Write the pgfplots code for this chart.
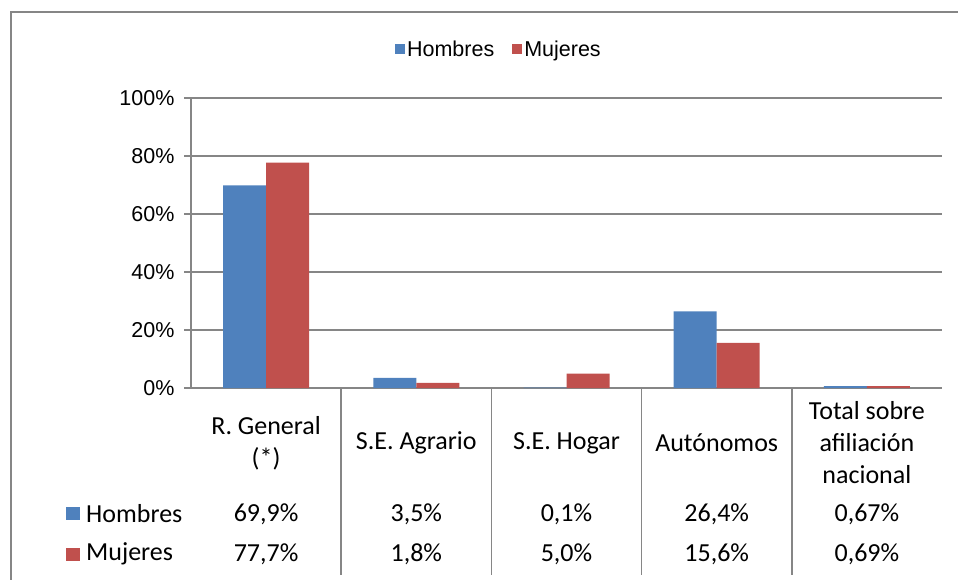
\documentclass[border=0pt]{standalone}
\usepackage{fontspec}
\setmainfont{Liberation Sans}
\newfontfamily\calibri{Carlito}
\usepackage{pgfplots}
\pgfplotsset{compat=1.18}
\definecolor{hblue}{HTML}{4F81BD}
\definecolor{mred}{HTML}{C0504D}
\definecolor{gridgray}{HTML}{868686}
\newcommand{\tbl}{\calibri\fontsize{26}{32}\selectfont}
\newcommand{\hel}{\fontsize{21.5}{25}\selectfont}
\begin{document}
\begin{tikzpicture}
\useasboundingbox (0pt,0pt) rectangle (958pt,-580pt);
\draw[gridgray, line width=1.5pt] (11pt,-590pt) -- (11pt,-12pt) -- (970pt,-12pt);
\begin{axis}[
  at={(191pt,-388pt)}, anchor=south west,
  scale only axis, width=751pt, height=290pt,
  xmin=-0.5, xmax=4.5, ymin=0, ymax=100,
  ybar=0pt, bar width=43pt,
  clip=false,
  axis y line*=left, axis x line*=bottom,
  axis line style={gridgray, line width=1.5pt},
  ymajorgrids, grid style={gridgray, line width=1.5pt},
  ytick={0,20,40,60,80,100},
  yticklabels={0\%,20\%,40\%,60\%,80\%,100\%},
  ytick align=outside, major tick length=7pt,
  ytick style={gridgray, line width=1.5pt},
  xtick={0,1,2,3,4},
  xtick style={draw=none},
  xticklabels={{R. General\\(*)},{S.E. Agrario},{S.E. Hogar},{Autónomos},{Total sobre\\afiliación\\nacional}},
  xticklabel style={font=\tbl, align=center, anchor=center, yshift=-48pt},
  yticklabel style={font=\hel, xshift=-6pt},
  legend style={at={(0.41,1.168)}, anchor=center, draw=none, fill=none,
    legend columns=-1, font=\hel,
    /tikz/every even column/.append style={column sep=16pt}},
  legend image code/.code={\fill[#1] (-4pt,-5pt) rectangle (6pt,5pt);},
]
\addplot[fill=hblue, draw=none] coordinates {(0,69.9) (1,3.5) (2,0.1) (3,26.4) (4,0.67)};
\addplot[fill=mred, draw=none] coordinates {(0,77.7) (1,1.8) (2,5.0) (3,15.6) (4,0.69)};
\legend{Hombres, Mujeres}
\foreach \x in {0.5,1.5,2.5,3.5} {
  \edef\tmp{\noexpand\draw[gridgray, line width=1.5pt] (axis cs:\x,0) -- ([yshift=-187pt]axis cs:\x,0);}
  \tmp
}
\node[font=\tbl] at ([yshift=-126pt]axis cs:0,0) {69,9\%};
\node[font=\tbl] at ([yshift=-126pt]axis cs:1,0) {3,5\%};
\node[font=\tbl] at ([yshift=-126pt]axis cs:2,0) {0,1\%};
\node[font=\tbl] at ([yshift=-126pt]axis cs:3,0) {26,4\%};
\node[font=\tbl] at ([yshift=-126pt]axis cs:4,0) {0,67\%};
\node[font=\tbl] at ([yshift=-166pt]axis cs:0,0) {77,7\%};
\node[font=\tbl] at ([yshift=-166pt]axis cs:1,0) {1,8\%};
\node[font=\tbl] at ([yshift=-166pt]axis cs:2,0) {5,0\%};
\node[font=\tbl] at ([yshift=-166pt]axis cs:3,0) {15,6\%};
\node[font=\tbl] at ([yshift=-166pt]axis cs:4,0) {0,69\%};
\end{axis}
\fill[hblue] (66pt,-507pt) rectangle (80pt,-520pt);
\fill[mred] (66pt,-548pt) rectangle (80pt,-561pt);
\node[font=\tbl, anchor=west, inner sep=0pt] at (86pt,-514pt) {Hombres};
\node[font=\tbl, anchor=west, inner sep=0pt] at (86pt,-554pt) {Mujeres};
\end{tikzpicture}
\end{document}
